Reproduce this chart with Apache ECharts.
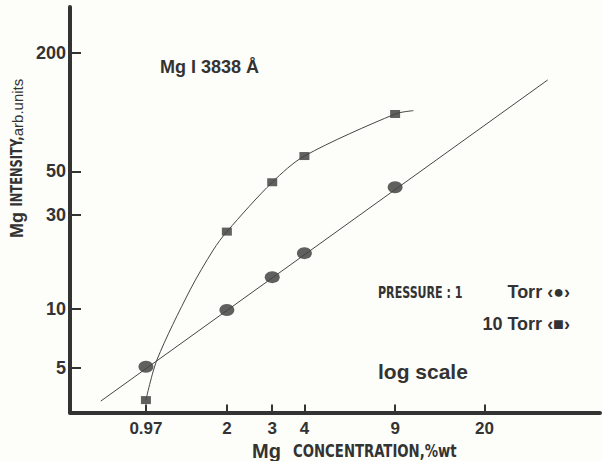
<!DOCTYPE html>
<html>
<head>
<meta charset="utf-8">
<script src="https://cdn.jsdelivr.net/npm/echarts@6/dist/echarts.min.js"></script>
<style>
html,body{margin:0;padding:0;background:#fdfdf9;}
#c{width:602px;height:461px;}
</style>
</head>
<body>
<div id="c"></div>
<script>
// tick marks
const xTicks = [0.97, 2, 3, 4, 9, 20];
const yTicks = [5, 10, 30, 50, 200];
// measured points
const conc = [0.97, 2, 3, 4, 9];
const intensity1Torr = [5.08, 9.87, 14.5, 19.2, 41.5];
const intensity10Torr = [3.44, 24.7, 44.0, 59.8, 97.8];
// drawn fit line (1 Torr), end points
const fit1TorrX = [0.648, 35.2];
const fit1TorrY = [3.40, 145.6];
// drawn curve (10 Torr)
const curve10TorrX = [0.97, 1.07, 1.44, 1.77, 2, 3, 4, 9, 10.6];
const curve10TorrY = [3.44, 5.5, 12.5, 19.9, 24.7, 44.0, 59.8, 97.8, 101.7];

const ink = '#333333';
const wide = '"Liberation Sans","Arimo","DejaVu Sans",sans-serif';
const cond = '"DejaVu Sans",sans-serif';
const zip = (a, b) => a.map((v, i) => [v, b[i]]);
function txt(x, y, text, font, align, extra) {
  return Object.assign({
    type: 'text', x: x, y: y,
    style: {text: text, fill: ink, font: font, align: align, verticalAlign: 'middle'}
  }, extra || {});
}
const R = {rotation: Math.PI / 2};

const chart = echarts.init(document.getElementById('c'), null, {renderer: 'svg'});
chart.setOption({
  backgroundColor: '#fdfdf9',
  animation: false,
  grid: {left: 70, right: 2, top: 7, bottom: 48.5, containLabel: false},
  xAxis: {
    type: 'log', logBase: 10, min: 0.492, max: 56.2,
    axisLine: {show: true, lineStyle: {color: ink, width: 4}},
    axisTick: {show: true, inside: true, length: 8, customValues: xTicks, lineStyle: {color: ink, width: 2}},
    axisLabel: {customValues: xTicks, formatter: v => String(v), color: ink, fontSize: 17, fontWeight: 'bold', fontFamily: wide, margin: 7},
    splitLine: {show: false}, minorTick: {show: false}
  },
  yAxis: {
    type: 'log', logBase: 10, min: 2.975, max: 342,
    axisLine: {show: true, lineStyle: {color: ink, width: 4}},
    axisTick: {show: true, inside: true, length: 11, customValues: yTicks, lineStyle: {color: ink, width: 2}},
    axisLabel: {customValues: yTicks, formatter: v => String(v), color: ink, fontSize: 18, fontWeight: 'bold', fontFamily: wide, margin: 4},
    splitLine: {show: false}, minorTick: {show: false}
  },
  series: [
    {type: 'line', data: zip(fit1TorrX, fit1TorrY), showSymbol: false, silent: true,
     lineStyle: {color: '#454545', width: 1}},
    {type: 'line', data: zip(curve10TorrX, curve10TorrY), showSymbol: false, silent: true, smooth: 0.3,
     lineStyle: {color: '#454545', width: 1}},
    {type: 'scatter', name: '1 Torr', data: zip(conc, intensity1Torr), symbol: 'circle', symbolSize: [15, 12],
     itemStyle: {color: '#383838'}},
    {type: 'scatter', name: '10 Torr', data: zip(conc, intensity10Torr), symbol: 'rect', symbolSize: [10, 8],
     itemStyle: {color: '#383838'}}
  ],
  graphic: [
    txt(160, 67, 'Mg I 3838 Å', 'bold 18px ' + wide, 'left'),
    txt(378, 292, 'PRESSURE : 1', 'bold condensed 16px ' + cond, 'left', {scaleX: 0.77}),
    txt(570, 292, 'Torr ‹●›', 'bold 18px ' + wide, 'right'),
    txt(570, 324, '10 Torr ‹■›', 'bold 18px ' + wide, 'right'),
    txt(378, 371, 'log scale', 'bold 21px ' + wide, 'left'),
    txt(252, 451, 'Mg', 'bold 20px ' + wide, 'left'),
    txt(293, 451, 'CONCENTRATION,%wt', 'bold condensed 18px ' + cond, 'left', {scaleX: 0.82}),
    txt(17, 225, 'Mg', 'bold 18px ' + wide, 'center', R),
    txt(17, 171.5, 'INTENSITY,', 'bold condensed 15px ' + cond, 'center', Object.assign({scaleX: 0.85}, R)),
    txt(17, 107.5, 'arb.units', '15px ' + wide, 'center', R)
  ]
});
</script>
</body>
</html>
